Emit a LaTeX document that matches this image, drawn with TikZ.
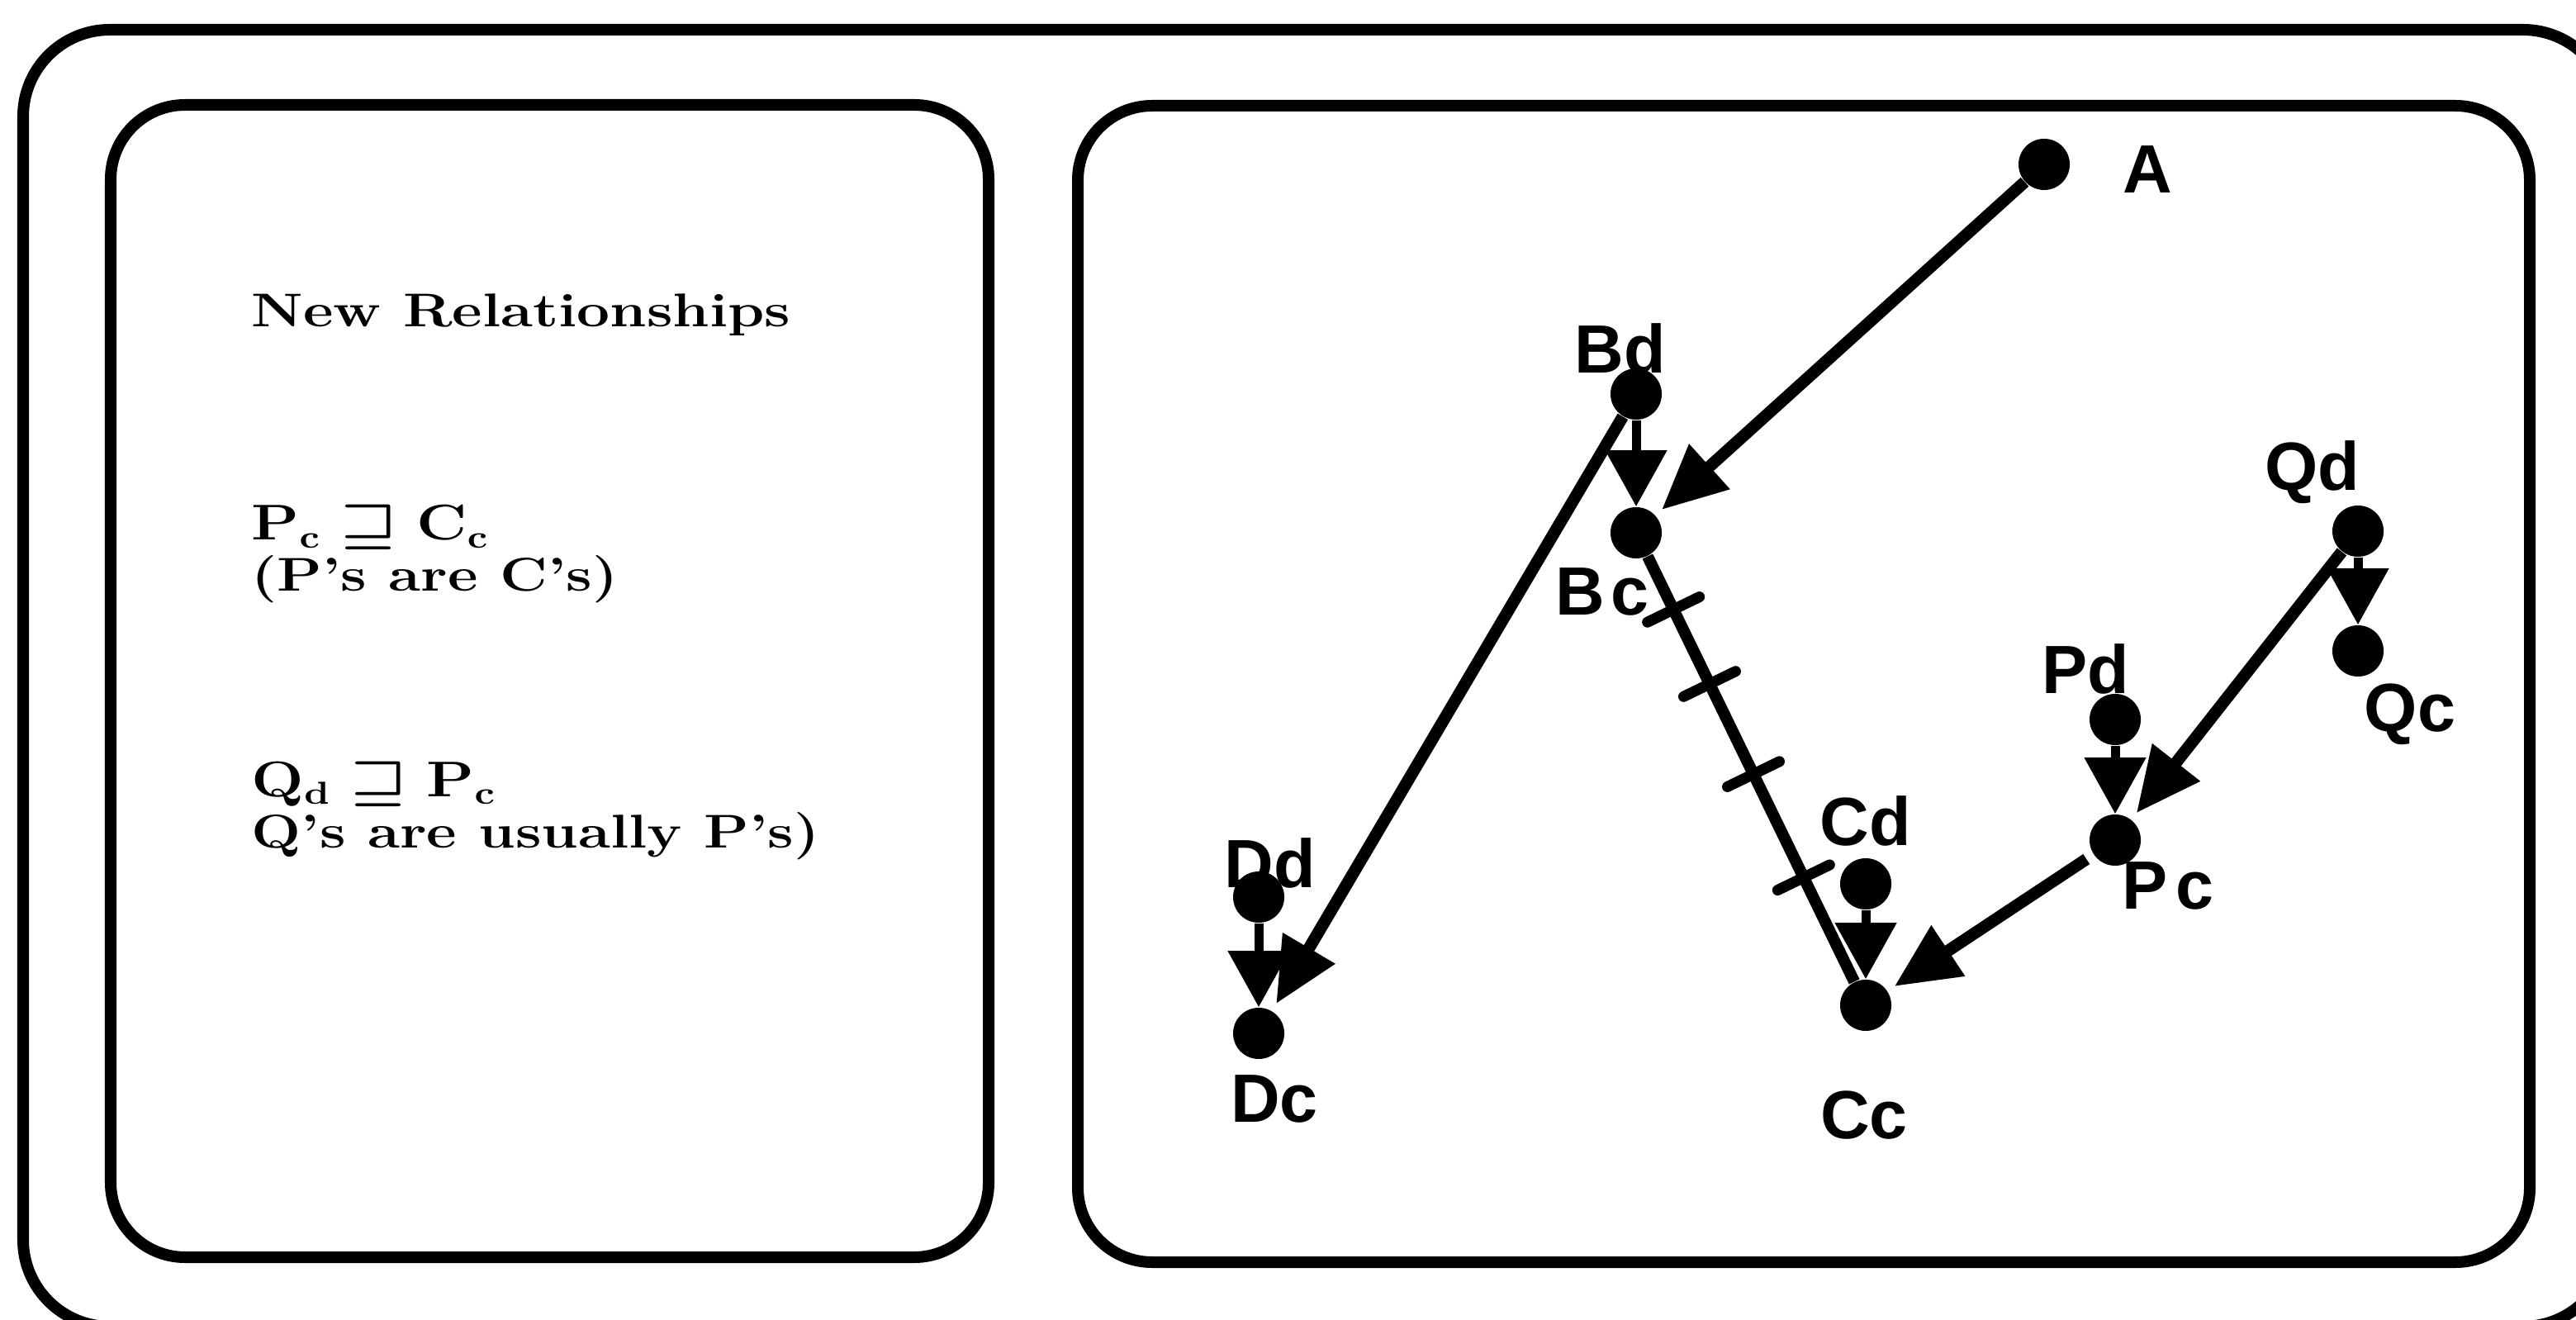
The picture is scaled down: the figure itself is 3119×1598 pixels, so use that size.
\documentclass[tikz,border=0pt]{standalone}
\usepackage{fontspec}
\newfontfamily\lblfont{Liberation Sans}
\usetikzlibrary{arrows.meta,decorations.markings}
\newcommand{\wide}[1]{\scalebox{1.24}[1]{#1}}
\begin{document}
\begin{tikzpicture}[x=0.01cm,y=-0.01cm,
  frame/.style={line width=0.14cm, rounded corners=0.9cm},
  dot/.style={circle, fill=black, minimum size=0.62cm, inner sep=0pt},
  lbl/.style={font={\lblfont\bfseries\fontsize{23.5}{24}\selectfont}, inner sep=0pt},
  txt/.style={font={\bfseries\fontsize{16.3}{18}\selectfont}, anchor=base west, inner sep=0pt},
  longarrow/.style={line width=0.145cm, -{Triangle[length=0.78cm,width=0.70cm]}, shorten >=0.1cm},
  shortarrow/.style={line width=0.11cm, -{Triangle[length=0.68cm,width=0.72cm]}},
  tk/.style={decoration={markings,
     mark=at position 0.125 with {\draw[line width=0.13cm, line cap=round] (0pt,-0.35cm) -- (0pt,0.35cm);},
     mark=at position 0.30 with {\draw[line width=0.13cm, line cap=round] (0pt,-0.35cm) -- (0pt,0.35cm);},
     mark=at position 0.512 with {\draw[line width=0.13cm, line cap=round] (0pt,-0.35cm) -- (0pt,0.35cm);},
     mark=at position 0.755 with {\draw[line width=0.13cm, line cap=round] (0pt,-0.35cm) -- (0pt,0.35cm);}},
     line width=0.14cm, postaction={decorate}}
]
\useasboundingbox (0,0) rectangle (3119,1598);
\clip (0,0) rectangle (3119,1598);
\fill[white] (0,0) rectangle (3119,1598);
% frames
\draw[frame, rounded corners=1.05cm] (28,36) rectangle (3160,1606);
\draw[frame] (134,127) rectangle (1197,1522);
\draw[frame] (1305,128) rectangle (3063,1528);
% left text
\node[txt] (t1) at (304,396) {\wide{New Relationships}};
\node[txt] (t2) at (304,654) {\wide{\boldmath$\mathbf{P}_{\mathbf{c}}\sqsupseteq\mathbf{C}_{\mathbf{c}}$}};
\node[txt] (t3) at (304,716) {\wide{(P's are C's)}};
\node[txt] (t4) at (304,964) {\wide{\boldmath$\mathbf{Q}_{\mathbf{d}}\sqsupseteq\mathbf{P}_{\mathbf{c}}$}};
\node[txt] (t5) at (304,1026) {\wide{Q's are usually P's)}};
% dots
\node[dot] (A)  at (2475,199) {};
\node[dot] (Bd) at (1981,477) {};
\node[dot] (Bc) at (1981,645) {};
\node[dot] (Cd) at (2259,1070) {};
\node[dot] (Cc) at (2259,1217) {};
\node[dot] (Dd) at (1524,1086) {};
\node[dot] (Dc) at (1524,1251) {};
\node[dot] (Pd) at (2561,871) {};
\node[dot] (Pc) at (2561,1017) {};
\node[dot] (Qd) at (2855,643) {};
\node[dot] (Qc) at (2855,788) {};
% labels
\node[lbl] (lA)  at (2600,205) {A};
\node[lbl] (lBd) at (1962,422) {Bd};
\node[lbl] (lBc) at (1940,716) {B\kern2pt c};
\node[lbl] (lCd) at (2259,994) {Cd};
\node[lbl] (lCc) at (2257,1350) {Cc};
\node[lbl] (lDd) at (1538,1045) {Dd};
\node[lbl] (lDc) at (1543,1330) {Dc};
\node[lbl] (lPd) at (2525,810) {Pd};
\node[lbl] (lPc) at (2625,1072) {P\kern3pt c};
\node[lbl] (lQd) at (2800,572) {Qd};
\node[lbl] (lQc) at (2918,865) {Qc};
% connectors
\draw[longarrow] (A) -- (Bc);
\draw[longarrow] (Bd) -- (Dc);
\draw[longarrow] (Qd) -- (Pc);
\draw[longarrow, shorten <=0.1cm] (Pc) -- (Cc);
\draw[tk] (Bc) -- (Cc);
\draw[shortarrow] (Bd) -- (Bc);
\draw[shortarrow] (Cd) -- (Cc);
\draw[shortarrow] (Dd) -- (Dc);
\draw[shortarrow] (Pd) -- (Pc);
\draw[shortarrow] (Qd) -- (Qc);
\end{tikzpicture}
\end{document}
